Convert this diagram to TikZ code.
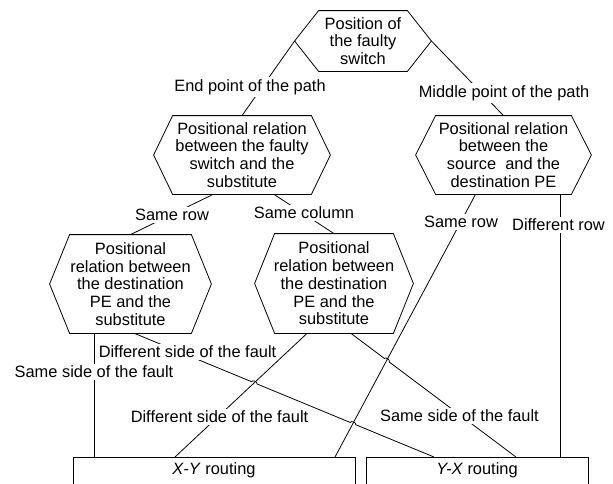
\documentclass[tikz,border=0pt]{standalone}
\usepackage{fontspec}
\setmainfont{Liberation Sans}
\usetikzlibrary{calc}

\tikzset{
  hexbox/.style={align=center, inner sep=0pt},
  lab/.style={fill=white, inner sep=2pt},
  routebox/.style={draw, anchor=north, inner ysep=5pt, text height=12pt, text depth=20pt},
}
% Sechseck um einen Knoten: Name, Einzug
\newcommand{\hexdraw}[2]{%
  \draw (#1.west) -- ([xshift=#2]#1.north west) -- ([xshift=-#2]#1.north east)
    -- (#1.east) -- ([xshift=-#2]#1.south east) -- ([xshift=#2]#1.south west) -- cycle;}

\begin{document}
\begin{tikzpicture}[x=1pt,y=-1pt,line width=0.8pt,font=\fontsize{16.4}{17.8}\selectfont]
	\useasboundingbox (0,0) rectangle (613,483);
	\clip (0,0) rectangle (613,483);
	
	%Sechsecke
	\node[hexbox,minimum width=136pt,minimum height=60pt] (pos) at (363,41) {Position of\\the faulty\\switch};
	\node[hexbox,minimum width=176pt,minimum height=78pt] (relEnd) at (242,155) {Positional relation\\between the faulty\\switch and the\\substitute};
	\node[hexbox,minimum width=175pt,minimum height=78pt] (relMid) at (503.5,155) {Positional relation\\between the\\source~ and the\\destination PE};
	\node[hexbox,minimum width=161pt,minimum height=98pt] (relRow) at (130.5,284) {Positional\\relation between\\the destination\\PE and the\\substitute};
	\node[hexbox,minimum width=158pt,minimum height=99pt] (relCol) at (334,283.5) {Positional\\relation between\\the destination\\PE and the\\substitute};
	\hexdraw{pos}{24pt}
	\hexdraw{relEnd}{19pt}
	\hexdraw{relMid}{20pt}
	\hexdraw{relRow}{20pt}
	\hexdraw{relCol}{20pt}
	
	%Routing
	\node[routebox,minimum width=282pt] (xy) at (214,457) {\textit{X-Y} routing};
	\node[routebox,minimum width=222pt] (yx) at (477,457) {\textit{Y-X} routing};
	
	%Verbindungen
	\coordinate (a5) at ([xshift=-28pt]relMid.south);
	\coordinate (b5) at ([xshift=121pt]xy.north);
	\coordinate (a8) at ([xshift=4pt]relRow.south);
	\coordinate (b8) at ([xshift=-43pt]yx.north);
	\coordinate (a9) at ([xshift=-27pt]relCol.south);
	\coordinate (b9) at ([xshift=-39pt]xy.north);
	\coordinate (a10) at ([xshift=17pt]relCol.south);
	\coordinate (b10) at ([xshift=39pt]yx.north);
	
	\draw (pos.west) -- (relEnd.north);
	\draw (pos.east) -- (relMid.north);
	\draw ([xshift=-29pt]relEnd.south) -- (relRow.north);
	\draw ([xshift=32pt]relEnd.south) -- (relCol.north);
	\draw (a5) -- (b5);
	\draw ([xshift=56.5pt]relMid.south) -- ([xshift=56.5pt]relMid.south |- yx.north);
	\draw ([xshift=-36.5pt]relRow.south) -- ([xshift=-36.5pt]relRow.south |- xy.north);
	\draw (a9) -- (b9);
	
	%Kreuzungen mit Bogen
	\coordinate (c1) at (intersection of a8--b8 and a9--b9);
	\coordinate (c2) at (intersection of a8--b8 and a5--b5);
	\coordinate (c3) at (intersection of a10--b10 and a5--b5);
	\draw (a8) -- ($(c1)!3pt!(a8)$) to[bend left=90] ($(c1)!3pt!(b8)$)
		-- ($(c2)!3pt!(a8)$) to[bend left=90] ($(c2)!3pt!(b8)$) -- (b8);
	\draw (a10) -- ($(c3)!3pt!(a10)$) to[bend left=90] ($(c3)!3pt!(b10)$) -- (b10);
	
	%Beschriftungen
	\node[lab] (lEnd) at (250,87) {End point of the path};
	\node[lab] (lMid) at (504,93) {Middle point of the path};
	\node[lab] (lRowL) at (172,215) {Same row};
	\node[lab] (lCol) at (304,213) {Same column};
	\node[lab] (lRowR) at (461,222) {Same row};
	\node[lab] (lDiffRow) at (558.5,225) {Different row};
	\node[lab] (lSameL) at (94,372) {Same side of the fault};
	\node[lab] (lDiffL) at (187.5,352) {Different side of the fault};
	\node[lab] (lDiffM) at (219.5,417) {Different side of the fault};
	\node[lab] (lSameR) at (459.5,416) {Same side of the fault};
	
\end{tikzpicture}
\end{document}
